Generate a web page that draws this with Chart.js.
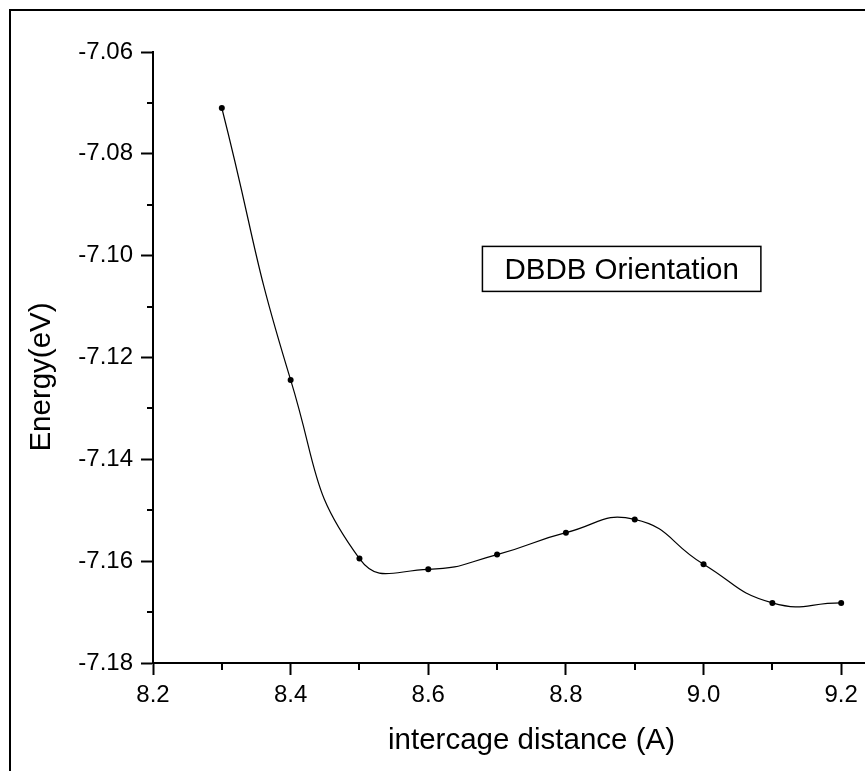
<!DOCTYPE html>
<html lang="en">
<head>
    <meta charset="UTF-8">
    <title>DBDB Orientation - Energy vs intercage distance</title>
    <script src="https://cdn.jsdelivr.net/npm/chart.js"></script>
    <style>
        html, body {
            margin: 0;
            padding: 0;
            background: #ffffff;
            overflow: hidden;
        }

        /* the plot runs on to 9.3 and is cut off at the window edge, as in the original */
        #energyChart {
            display: block;
        }
    </style>
</head>
<body>
    <canvas id="energyChart" width="913" height="771"></canvas>

    <script>
        // data
        const distances = [8.3, 8.4, 8.5, 8.6, 8.7, 8.8, 8.9, 9.0, 9.1, 9.2];
        const energies = [-7.0710, -7.1244, -7.1595, -7.1616, -7.1587, -7.1544, -7.1518, -7.1606, -7.1682, -7.1682];

        // axis ticks
        const xMajorTicks = [8.2, 8.4, 8.6, 8.8, 9.0, 9.2];
        const xMinorTicks = [8.3, 8.5, 8.7, 8.9, 9.1, 9.3];
        const yMajorTicks = [-7.18, -7.16, -7.14, -7.12, -7.10, -7.08, -7.06];
        const yMinorTicks = [-7.17, -7.15, -7.13, -7.11, -7.09, -7.07];

        const xTitle = 'intercage distance (A)';
        const yTitle = 'Energy(eV)';
        const boxLabel = 'DBDB Orientation';
        const boxCenter = { x: 8.881, y: -7.1026 };

        const fontFamily = '"Liberation Sans", Arial, Helvetica, sans-serif';
        Chart.defaults.font.family = fontFamily;
        Chart.defaults.color = '#000000';

        // frame, minor ticks, y title and the text box
        const decorations = {
            id: 'decorations',
            beforeDraw(chart) {
                const ctx = chart.ctx;
                ctx.save();
                ctx.fillStyle = '#ffffff';
                ctx.fillRect(0, 0, chart.width, chart.height);
                ctx.strokeStyle = '#000000';
                ctx.lineWidth = 2;
                ctx.strokeRect(10, 10, chart.width + 20, chart.height + 20);
                ctx.restore();
            },
            afterDraw(chart) {
                const ctx = chart.ctx;
                const area = chart.chartArea;
                const xScale = chart.scales.x;
                const yScale = chart.scales.y;

                ctx.save();
                ctx.strokeStyle = '#000000';
                ctx.lineWidth = 2;

                // minor ticks
                ctx.beginPath();
                xMinorTicks.forEach(v => {
                    const px = Math.round(xScale.getPixelForValue(v));
                    ctx.moveTo(px, area.bottom);
                    ctx.lineTo(px, area.bottom + 7);
                });
                yMinorTicks.forEach(v => {
                    const py = Math.round(yScale.getPixelForValue(v));
                    ctx.moveTo(area.left, py);
                    ctx.lineTo(area.left - 6, py);
                });
                ctx.stroke();

                // y axis title
                ctx.fillStyle = '#000000';
                ctx.font = '29.5px ' + fontFamily;
                ctx.textAlign = 'center';
                ctx.textBaseline = 'middle';
                ctx.translate(42, 377);
                ctx.rotate(-Math.PI / 2);
                ctx.fillText(yTitle, 0, 0);
                ctx.setTransform(1, 0, 0, 1, 0, 0);
                ctx.restore();

                // text box
                ctx.save();
                const cx = xScale.getPixelForValue(boxCenter.x);
                const cy = yScale.getPixelForValue(boxCenter.y);
                ctx.font = '29.5px ' + fontFamily;
                const w = ctx.measureText(boxLabel).width + 44;
                const h = 45;
                ctx.fillStyle = '#ffffff';
                ctx.fillRect(cx - w / 2, cy - h / 2, w, h);
                ctx.strokeStyle = '#000000';
                ctx.lineWidth = 1.5;
                ctx.strokeRect(cx - w / 2, cy - h / 2, w, h);
                ctx.fillStyle = '#000000';
                ctx.textAlign = 'center';
                ctx.textBaseline = 'alphabetic';
                ctx.fillText(boxLabel, cx, cy + 10.5);
                ctx.restore();
            }
        };

        const ctx = document.getElementById('energyChart').getContext('2d');

        const energyChart = new Chart(ctx, {
            type: 'line',
            data: {
                datasets: [{
                    label: 'DBDB Orientation',
                    data: distances.map((d, i) => ({ x: d, y: energies[i] })),
                    borderColor: '#000000',
                    borderWidth: 1.2,
                    fill: false,
                    tension: 0.5,
                    pointRadius: 3,
                    pointHoverRadius: 3,
                    pointBackgroundColor: '#000000',
                    pointBorderWidth: 0
                }]
            },
            options: {
                responsive: false,
                animation: false,
                events: [],
                layout: {
                    padding: { top: 52, left: 0, right: 0, bottom: 0 }
                },
                plugins: {
                    legend: { display: false },
                    tooltip: { enabled: false }
                },
                scales: {
                    x: {
                        type: 'linear',
                        min: 8.2,
                        max: 9.3,
                        afterBuildTicks: scale => {
                            scale.ticks = xMajorTicks.map(v => ({ value: v }));
                        },
                        afterFit: scale => {
                            scale.height = 108;
                        },
                        ticks: {
                            font: { size: 24 },
                            color: '#000000',
                            padding: 6,
                            maxRotation: 0,
                            autoSkip: false,
                            callback: v => Number(v).toFixed(1)
                        },
                        grid: {
                            drawOnChartArea: false,
                            tickLength: 12,
                            tickWidth: 2,
                            tickColor: '#000000'
                        },
                        border: { display: true, color: '#000000', width: 2 },
                        title: {
                            display: true,
                            text: xTitle,
                            color: '#000000',
                            font: { size: 29.5 },
                            padding: { top: 0, bottom: 12 }
                        }
                    },
                    y: {
                        type: 'linear',
                        min: -7.18,
                        max: -7.06,
                        afterBuildTicks: scale => {
                            scale.ticks = yMajorTicks.map(v => ({ value: v }));
                        },
                        afterFit: scale => {
                            scale.width = 153;
                        },
                        ticks: {
                            font: { size: 24 },
                            color: '#000000',
                            padding: 8,
                            autoSkip: false,
                            callback: v => Number(v).toFixed(2)
                        },
                        grid: {
                            drawOnChartArea: false,
                            tickLength: 12,
                            tickWidth: 2,
                            tickColor: '#000000'
                        },
                        border: { display: true, color: '#000000', width: 2 }
                    }
                }
            },
            plugins: [decorations]
        });
    </script>
</body>
</html>
